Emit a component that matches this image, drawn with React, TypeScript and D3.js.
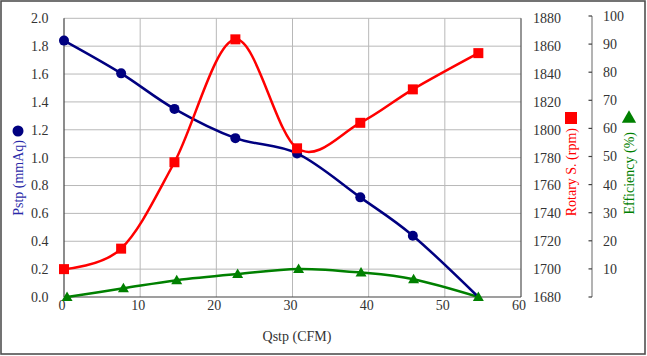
import React from "react";
import * as d3 from "d3";

const qstp = [0, 7.5, 14.5, 22.5, 30.6, 38.9, 45.8, 54.4];
const pstp = [1.84, 1.605, 1.35, 1.14, 1.03, 0.715, 0.44, 0];
const rpm = [1700, 1714.7, 1776.7, 1864.9, 1786.7, 1805, 1829, 1855];
const effQ = [0.4, 7.8, 14.8, 22.8, 30.8, 39.0, 45.9, 54.4];
const eff = [0, 3.1, 6.0, 8.2, 10.0, 8.7, 6.3, 0];

const xTicks = [0, 10, 20, 30, 40, 50, 60];
const pTicks = [0, 0.2, 0.4, 0.6, 0.8, 1.0, 1.2, 1.4, 1.6, 1.8, 2.0];
const rTicks = [1680, 1700, 1720, 1740, 1760, 1780, 1800, 1820, 1840, 1860, 1880];
const eTicks = [0, 10, 20, 30, 40, 50, 60, 70, 80, 90, 100];

const W = 647, H = 356;
const L = 64, R = 521, T = 18.3, B = 297;
const FONT = "Liberation Serif, DejaVu Serif, serif";
const BLUE = "#000080", RED = "#ff0000", GREEN = "#008000";

export default function App() {
  const x = d3.scaleLinear().domain([0, 60]).range([L, R]);
  const yP = d3.scaleLinear().domain([0, 2]).range([B, T]);
  const yR = d3.scaleLinear().domain([1680, 1880]).range([B, T]);
  const yE = d3.scaleLinear().domain([0, 100]).range([B, 16]);
  const curve = d3.curveCardinal.tension(0);

  const lineP = d3.line<number>().x((_, i) => x(qstp[i])).y((d) => yP(d)).curve(curve);
  const lineR = d3.line<number>().x((_, i) => x(qstp[i])).y((d) => yR(d)).curve(curve);
  const lineE = d3.line<number>().x((_, i) => x(effQ[i])).y((d) => yE(d)).curve(curve);

  const tri = (cx: number, cy: number, s: number) =>
    `M${cx},${cy - s * 0.55}L${cx + s * 0.55},${cy + s * 0.4}L${cx - s * 0.55},${cy + s * 0.4}Z`;

  const fmt1 = d3.format(".1f");
  const ts: React.CSSProperties = { fontFamily: FONT, fontSize: 14 };

  return (
    <svg width={W} height={H} style={{ position: "absolute", left: 0, top: 0, background: "#fff" }}>
      <rect x={1} y={1} width={644} height={353} fill="#fff" stroke="#505050" strokeWidth={1.6} />
      {xTicks.slice(1, -1).map((t) => (
        <line key={"gx" + t} x1={x(t)} x2={x(t)} y1={T} y2={B} stroke="#b8b8b8" strokeWidth={1} />
      ))}
      {pTicks.slice(1).map((t) => (
        <line key={"gy" + t} x1={L} x2={R} y1={yP(t)} y2={yP(t)} stroke="#b8b8b8" strokeWidth={1} />
      ))}
      <line x1={R} x2={R} y1={T} y2={B} stroke="#505050" strokeWidth={1.2} />
      <line x1={L} x2={L} y1={T} y2={B} stroke="#404040" strokeWidth={1.2} />
      <line x1={L} x2={R} y1={B} y2={B} stroke="#404040" strokeWidth={1.2} />

      {pTicks.map((t) => (
        <text key={"pl" + t} x={48.5} y={yP(t)} dy="0.35em" textAnchor="end" style={ts} fill="#333">
          {fmt1(t)}
        </text>
      ))}
      {xTicks.map((t) => (
        <text key={"xl" + t} x={x(t) - 2} y={310} textAnchor="middle" style={ts} fill="#333">
          {t}
        </text>
      ))}
      {rTicks.map((t) => (
        <text key={"rl" + t} x={533} y={yR(t)} dy="0.35em" textAnchor="start" style={ts} fill="#333">
          {t}
        </text>
      ))}
      <line x1={592} x2={592} y1={yE(100)} y2={yE(0)} stroke="#808080" strokeWidth={1.2} />
      {eTicks.map((t) => (
        <g key={"et" + t}>
          <line x1={588.5} x2={592} y1={yE(t)} y2={yE(t)} stroke="#404040" strokeWidth={1.2} />
          {t > 0 && (
            <text x={603} y={yE(t)} dy="0.35em" textAnchor="start" style={ts} fill="#333">
              {t}
            </text>
          )}
        </g>
      ))}

      <path d={lineE(eff) || ""} fill="none" stroke={GREEN} strokeWidth={2.5} />
      <path d={lineP(pstp) || ""} fill="none" stroke={BLUE} strokeWidth={2.5} />
      <path d={lineR(rpm) || ""} fill="none" stroke={RED} strokeWidth={2.5} />
      {eff.map((v, i) => (
        <path key={"em" + i} d={tri(x(effQ[i]), yE(v), 10)} fill={GREEN} />
      ))}
      {pstp.slice(0, -1).map((v, i) => (
        <circle key={"pm" + i} cx={x(qstp[i])} cy={yP(v)} r={5} fill={BLUE} />
      ))}
      {rpm.map((v, i) => (
        <rect key={"rm" + i} x={x(qstp[i]) - 5} y={yR(v) - 5} width={10} height={10} fill={RED} />
      ))}

      <text x={297} y={341} textAnchor="middle" style={ts} fill="#333">
        Qstp (CFM)
      </text>
      <text transform="translate(23,140) rotate(-90)" textAnchor="end" style={ts} fill="#2a2aa8">
        Pstp (mmAq)
      </text>
      <circle cx={18} cy={131} r={5.5} fill={BLUE} />
      <text transform="translate(576,128) rotate(-90)" textAnchor="end" style={ts} fill={RED}>
        Rotary S. (rpm)
      </text>
      <rect x={565} y={112} width={12} height={12} fill={RED} />
      <text transform="translate(634,132) rotate(-90)" textAnchor="end" style={ts} fill={GREEN}>
        Efficiency (%)
      </text>
      <path d={tri(629, 117.5, 13)} fill={GREEN} />
    </svg>
  );
}
